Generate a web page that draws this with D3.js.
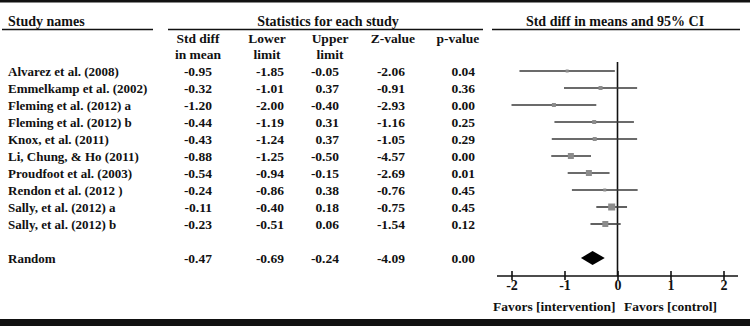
<!DOCTYPE html>
<html>
<head>
<meta charset="utf-8">
<script src="https://cdn.jsdelivr.net/npm/d3@7"></script>
<style>
  body { margin: 0; background: #fff; }
</style>
</head>
<body>
<div id="chart"></div>
<script>
// study rows
var studies = ["Alvarez et al. (2008)", "Emmelkamp et al. (2002)", "Fleming et al. (2012) a",
  "Fleming et al. (2012) b", "Knox, et al. (2011)", "Li, Chung, & Ho (2011)",
  "Proudfoot et al. (2003)", "Rendon et al. (2012 )", "Sally, et al. (2012) a", "Sally, et al. (2012) b"];
var stdDiff = [-0.95, -0.32, -1.20, -0.44, -0.43, -0.88, -0.54, -0.24, -0.11, -0.23];
var lower   = [-1.85, -1.01, -2.00, -1.19, -1.24, -1.25, -0.94, -0.86, -0.40, -0.51];
var upper   = [-0.05, 0.37, -0.40, 0.31, 0.37, -0.50, -0.15, 0.38, 0.18, 0.06];
var zValue  = [-2.06, -0.91, -2.93, -1.16, -1.05, -4.57, -2.69, -0.76, -0.75, -1.54];
var pValue  = [0.04, 0.36, 0.00, 0.25, 0.29, 0.00, 0.01, 0.45, 0.45, 0.12];
// relative weight (marker size)
var weight  = [3, 4, 4, 4, 4, 6, 6, 3, 7, 6];

// pooled estimate
var random = { name: "Random", est: -0.47, lo: -0.69, hi: -0.24, z: -4.09, p: 0.00 };

var colHeads = [["Std diff", "in mean"], ["Lower", "limit"], ["Upper", "limit"], ["Z-value"], ["p-value"]];
var axisTicks = [-2, -1, 0, 1, 2];

var w = 750, h = 326;
var svg = d3.select("#chart").append("svg").attr("width", w).attr("height", h)
  .attr("font-family", "Liberation Serif").attr("font-weight", "bold");

// hyphen instead of unicode minus, like the reference
var loc = d3.formatLocale({ decimal: ".", thousands: ",", grouping: [3], currency: ["", ""], minus: "-" });
var fmt = loc.format(".2f");

function txt(x, y, s, size, anchor) {
  return svg.append("text").attr("x", x).attr("y", y).attr("dy", "0.35em")
    .attr("font-family", "Liberation Serif").attr("font-weight", "bold")
    .attr("font-size", size).attr("fill", "#111")
    .attr("text-anchor", anchor || "start").text(s);
}

// frame lines
svg.append("rect").attr("x", 0).attr("y", 0).attr("width", w).attr("height", 2.5).attr("fill", "#111");
svg.append("rect").attr("x", 0).attr("y", 319).attr("width", w).attr("height", 7).attr("fill", "#111");

var rowY = d3.scaleLinear().domain([0, 1]).range([71, 88]);
var randomY = 258;

// headings
txt(8, 21, "Study names", "14px");
svg.append("line").attr("x1", 2).attr("x2", 153).attr("y1", 29.5).attr("y2", 29.5).attr("stroke", "#111").attr("stroke-width", 1.5);
txt(328, 21, "Statistics for each study", "14px", "middle");
svg.append("line").attr("x1", 168).attr("x2", 483).attr("y1", 29.5).attr("y2", 29.5).attr("stroke", "#111").attr("stroke-width", 1.5);
txt(615, 21, "Std diff in means and 95% CI", "14px", "middle");
svg.append("line").attr("x1", 492).attr("x2", 740).attr("y1", 29.5).attr("y2", 29.5).attr("stroke", "#111").attr("stroke-width", 1.5);

var headX = [198, 267, 330, 393, 458];
var colRight = [212, 284, 339, 405, 475];

colHeads.forEach(function(lines, i) {
  lines.forEach(function(t, j) {
    txt(headX[i], 38 + j * 16, t, "13.5px", "middle");
  });
});

var cols = [stdDiff, lower, upper, zValue, pValue];

// table rows
studies.forEach(function(name, i) {
  txt(8, rowY(i), name, "13px");
  cols.forEach(function(col, c) {
    txt(colRight[c], rowY(i), fmt(col[i]), "13.5px", "end");
  });
});

var randVals = [random.est, random.lo, random.hi, random.z, random.p];
txt(8, randomY, random.name, "13px");
randVals.forEach(function(v, c) {
  txt(colRight[c], randomY, fmt(v), "13.5px", "end");
});

// forest plot
var xScale = d3.scaleLinear().domain([-2, 2]).range([511.5, 723.5]);
var axisY = 276;

svg.append("line").attr("x1", xScale(0)).attr("x2", xScale(0)).attr("y1", 62).attr("y2", axisY)
  .attr("stroke", "#111").attr("stroke-width", 1.6);

var plot = svg.append("g");
studies.forEach(function(name, i) {
  plot.append("line").attr("x1", xScale(lower[i])).attr("x2", xScale(upper[i]))
    .attr("y1", rowY(i)).attr("y2", rowY(i)).attr("stroke", "#3a3a3a").attr("stroke-width", 1.6);
  plot.append("rect").attr("x", xScale(stdDiff[i]) - weight[i] / 2).attr("y", rowY(i) - weight[i] / 2)
    .attr("width", weight[i]).attr("height", weight[i]).attr("fill", "#8c8c8c");
});

// summary diamond
var dh = 7;
plot.append("path")
  .attr("d", "M" + xScale(random.lo) + "," + randomY +
    " L" + xScale(random.est) + "," + (randomY - dh) +
    " L" + xScale(random.hi) + "," + randomY +
    " L" + xScale(random.est) + "," + (randomY + dh) + " Z")
  .attr("fill", "#000");

// axis
svg.append("line").attr("x1", 497).attr("x2", 738).attr("y1", axisY).attr("y2", axisY)
  .attr("stroke", "#111").attr("stroke-width", 1.6);
var xAxis = d3.axisBottom(xScale).tickValues(axisTicks).tickSize(0).tickFormat(loc.format("d"));
var gAxis = svg.append("g").attr("transform", "translate(0," + axisY + ")").call(xAxis);
gAxis.select(".domain").remove();
gAxis.selectAll(".tick line").attr("y1", -5).attr("y2", 4).attr("stroke", "#111").attr("stroke-width", 1.6);
gAxis.selectAll(".tick text").attr("y", 4).attr("font-size", "14px")
  .attr("font-family", "Liberation Serif").attr("font-weight", "bold").attr("fill", "#111");
gAxis.attr("font-family", "Liberation Serif");

txt(493, 306, "Favors [intervention]", "13.5px");
txt(624, 306, "Favors [control]", "13.5px");
</script>
</body>
</html>
